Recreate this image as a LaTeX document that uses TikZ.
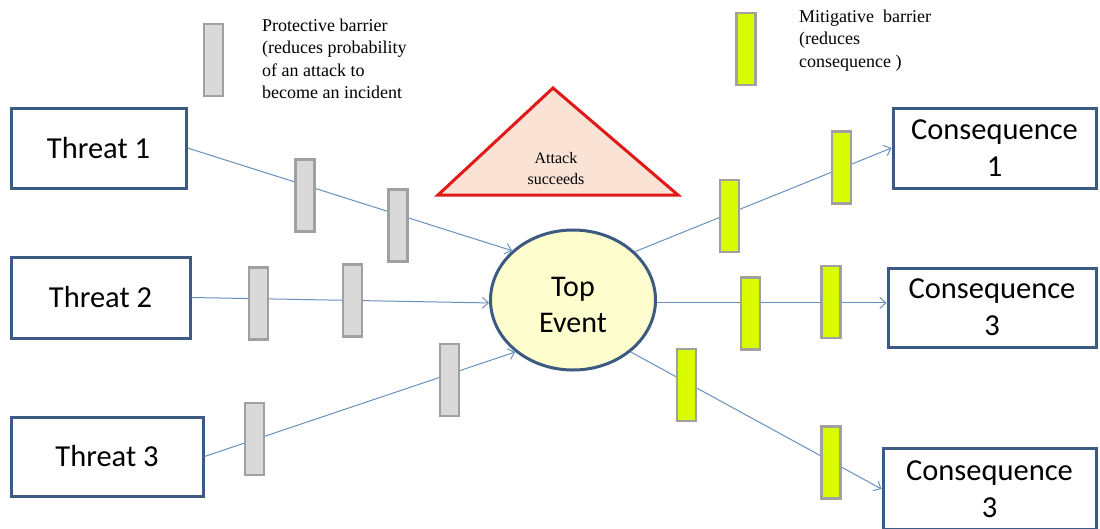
\documentclass[tikz,border=0pt]{standalone}
\usepackage{fontspec}
\newfontfamily\boxfont{Carlito}
\newfontfamily\notefont{Liberation Serif}
\usetikzlibrary{shapes.geometric,arrows.meta}

\definecolor{boxedge}{RGB}{60,90,130}
\definecolor{linkblue}{RGB}{105,145,190}
\definecolor{barrieredge}{RGB}{160,160,160}
\definecolor{protectfill}{RGB}{217,217,217}
\definecolor{mitigatefill}{RGB}{218,252,0}
\definecolor{eventfill}{RGB}{253,253,205}
\definecolor{attackedge}{RGB}{225,25,25}
\definecolor{attackfill}{RGB}{250,226,212}

\tikzset{
  box/.style={draw=boxedge, line width=3pt, fill=white, inner sep=0pt,
    align=center, font=\boxfont\fontsize{30.5}{37}\selectfont},
  event/.style={ellipse, draw=boxedge, line width=3pt, fill=eventfill,
    inner sep=0pt, minimum width=165pt, minimum height=140pt},
  eventtext/.style={align=center, inner sep=0pt,
    font=\boxfont\fontsize{30}{36}\selectfont},
  barrier/.style={draw=barrieredge, line width=2.5pt, inner sep=0pt,
    minimum width=19pt, minimum height=72pt},
  protect/.style={barrier, fill=protectfill},
  mitigate/.style={barrier, fill=mitigatefill},
  note/.style={align=left, inner sep=0pt, anchor=north west,
    font=\notefont\fontsize{18}{22.5}\selectfont},
  attack/.style={draw=attackedge, line width=3pt, fill=attackfill, line join=miter},
  link/.style={draw=linkblue, line width=1pt,
    -{Straight Barb[length=6pt,width=11pt]}}
}

\begin{document}
\begin{tikzpicture}[x=1pt, y=-1pt]
  \useasboundingbox (0,0) rectangle (1100,528);
  \clip (0,0) rectangle (1100,528);
  \fill[white] (0,0) rectangle (1100,528);

  % legend
  \node[protect] (legprotect) at (213.5,60) {};
  \node[note] (legprotecttext) at (262,18.5)
    {Protective barrier\\(reduces probability\\of an attack to\\become an incident};
  \node[mitigate] (legmitigate) at (746,49) {};
  \node[note] (legmitigatetext) at (799,9.5)
    {Mitigative\ \ barrier\\(reduces\\consequence )};

  % attack triangle
  \draw[attack] (438,195) -- (553,88) -- (678,195) -- cycle;
  \node[align=center, inner sep=0pt,
        font=\notefont\fontsize{16}{21}\selectfont] (attacktext) at (556,169)
    {Attack\\succeeds};

  % threats, top event and consequences
  \node[box, minimum width=175pt, minimum height=80pt] (t1) at (98.5,148) {Threat 1};
  \node[box, minimum width=179pt, minimum height=81pt] (t2) at (100.5,297.5) {Threat 2};
  \node[box, minimum width=192pt, minimum height=79pt] (t3) at (107,456.5) {Threat 3};

  \node[event] (top) at (573,300) {};
  \node[eventtext] (toptext) at (573,305) {Top\\Event};

  \node[box, minimum width=203pt, minimum height=80pt] (c1) at (994.5,148) {Consequence\\1};
  \node[box, minimum width=208pt, minimum height=79pt] (c2) at (992,307.5) {Consequence\\3};
  \node[box, minimum width=213pt, minimum height=81pt] (c3) at (989.5,489) {Consequence\\3};

  % connectors
  \draw[link] (t1.east) -- (top.141);
  \draw[link] (t2.east) -- (top.182);
  \draw[link] (t3.east) -- (top.222);
  \draw[link] (top.38) -- (c1.west);
  \draw[link] (top.-2) -- (top.-2 -| c2.west);
  \draw[link] (top.318) -- (c3.west);

  % barriers on the threat side
  \node[protect] (p11) at (305,195.5) {};
  \node[protect] (p12) at (398,225.5) {};
  \node[protect] (p21) at (258.5,303.5) {};
  \node[protect] (p22) at (352.5,300.5) {};
  \node[protect] (p31) at (254.5,439) {};
  \node[protect] (p32) at (449.5,380) {};

  % barriers on the consequence side
  \node[mitigate] (m11) at (729.5,216) {};
  \node[mitigate] (m12) at (841.5,167.5) {};
  \node[mitigate] (m21) at (750.5,313.5) {};
  \node[mitigate] (m22) at (831,302) {};
  \node[mitigate] (m31) at (686.5,385) {};
  \node[mitigate] (m32) at (831,462.5) {};
\end{tikzpicture}
\end{document}
